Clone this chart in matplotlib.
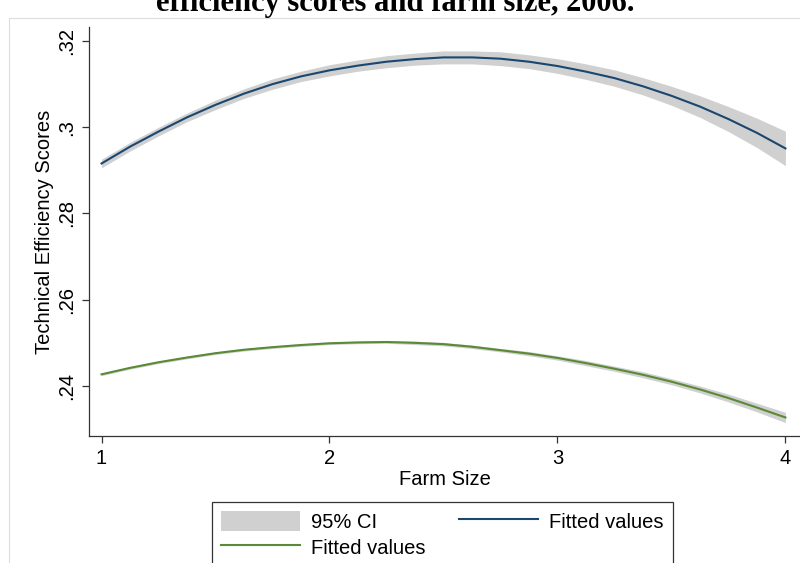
import matplotlib
matplotlib.use('Agg')
import matplotlib.pyplot as plt
import numpy as np
from matplotlib.patches import Rectangle

plt.rcParams['font.family'] = ['Liberation Sans', 'DejaVu Sans']

# farm size grid and quadratic fits (two groups) with 95% CI half widths
farm_size = [1.0, 1.125, 1.25, 1.375, 1.5, 1.625, 1.75, 1.875, 2.0, 2.125, 2.25, 2.375, 2.5,
             2.625, 2.75, 2.875, 3.0, 3.125, 3.25, 3.375, 3.5, 3.625, 3.75, 3.875, 4.0]
fit_top = [0.2916, 0.2955, 0.2990, 0.3023, 0.3052, 0.3078, 0.3100, 0.3118, 0.3132, 0.3143,
           0.3152, 0.3158, 0.3162, 0.3162, 0.3159, 0.3152, 0.3142, 0.3129, 0.3114, 0.3095,
           0.3073, 0.3048, 0.3019, 0.2987, 0.2951]
ci_top = [0.0010, 0.0010, 0.0010, 0.0010, 0.0011, 0.0011, 0.0012, 0.0012, 0.0013, 0.0013,
          0.0014, 0.0014, 0.0015, 0.0015, 0.0016, 0.0016, 0.0017, 0.0018, 0.0019, 0.0020,
          0.0022, 0.0025, 0.0029, 0.0034, 0.0040]
fit_bot = [0.2427, 0.2442, 0.2455, 0.2466, 0.2476, 0.2484, 0.2490, 0.2495, 0.2499, 0.2501,
           0.2502, 0.2500, 0.2497, 0.2491, 0.2483, 0.2475, 0.2465, 0.2453, 0.2440, 0.2426,
           0.2410, 0.2392, 0.2372, 0.2350, 0.2327]
ci_bot = [0.0003, 0.0003, 0.0003, 0.0003, 0.0003, 0.0003, 0.0003, 0.0003, 0.0003, 0.0003,
          0.0003, 0.0004, 0.0004, 0.0004, 0.0004, 0.0005, 0.0005, 0.0006, 0.0006, 0.0007,
          0.0007, 0.0008, 0.0009, 0.0010, 0.0012]

yticks = [0.24, 0.26, 0.28, 0.30, 0.32]
ytick_labels = ['.24', '.26', '.28', '.3', '.32']
xticks = [1, 2, 3, 4]

x = np.array(farm_size)
top = np.array(fit_top)
bot = np.array(fit_bot)

fig = plt.figure(figsize=(8, 5.63), dpi=100)
# light outline of the graph region
fig.patches.append(Rectangle((9 / 800, -0.1), 1.2, 1 - 18 / 563 + 0.1,
                             transform=fig.transFigure, fill=False,
                             edgecolor='#dcdcdc', linewidth=0.8))

ax = fig.add_axes([89 / 800, 127 / 563, 711 / 800, 409 / 563])

ci_color = '#d0d0d0'
band = ax.fill_between(x, top - np.array(ci_top), top + np.array(ci_top),
                       color=ci_color, linewidth=0, label='95% CI')
line_top, = ax.plot(x, top, color='#1a476f', lw=1.5, solid_joinstyle='round',
                    label='Fitted values')
ax.fill_between(x, bot - np.array(ci_bot), bot + np.array(ci_bot),
                color=ci_color, linewidth=0)
line_bot, = ax.plot(x, bot, color='#5a8a35', lw=1.5, solid_joinstyle='round',
                    label='Fitted values')

ax.set_xlim(0.945, 4.064)
ax.set_ylim(0.2284, 0.32325)
ax.set_xticks(xticks)
ax.set_yticks(yticks)
ax.set_yticklabels(ytick_labels)

for side in ['top', 'right']:
    ax.spines[side].set_visible(False)
for side in ['left', 'bottom']:
    ax.spines[side].set_color('#333333')
    ax.spines[side].set_linewidth(0.9)
ax.tick_params(length=5, width=0.9, color='#333333', labelsize=14.5)
ax.tick_params(axis='x', pad=4)
ax.tick_params(axis='y', pad=4, labelrotation=90)
for lab in ax.get_yticklabels():
    lab.set_va('center')

ax.set_xlabel('Farm Size', fontsize=14.5, labelpad=2)
ax.set_ylabel('Technical Efficiency Scores', fontsize=14.5)
ax.yaxis.set_label_coords(-0.049, 0.5)

fig.text(0.494, 1 - 11 / 563, 'efficiency scores and farm size, 2006.',
         ha='center', va='baseline', fontsize=22, fontweight='bold',
         family=['Liberation Serif', 'DejaVu Serif'])

leg = fig.legend([band, line_bot, line_top], ['95% CI', 'Fitted values', 'Fitted values'],
                 ncol=2, loc='upper left', bbox_to_anchor=(212 / 800, 1 - 502 / 563),
                 fontsize=14.5, handlelength=3.9, handleheight=1.15,
                 handletextpad=0.55, columnspacing=1.7, labelspacing=0.25,
                 borderpad=0.45, fancybox=False, framealpha=1, borderaxespad=0)
leg.get_frame().set_edgecolor('#333333')
leg.get_frame().set_linewidth(0.9)

fig.savefig('out.png', dpi=100)
